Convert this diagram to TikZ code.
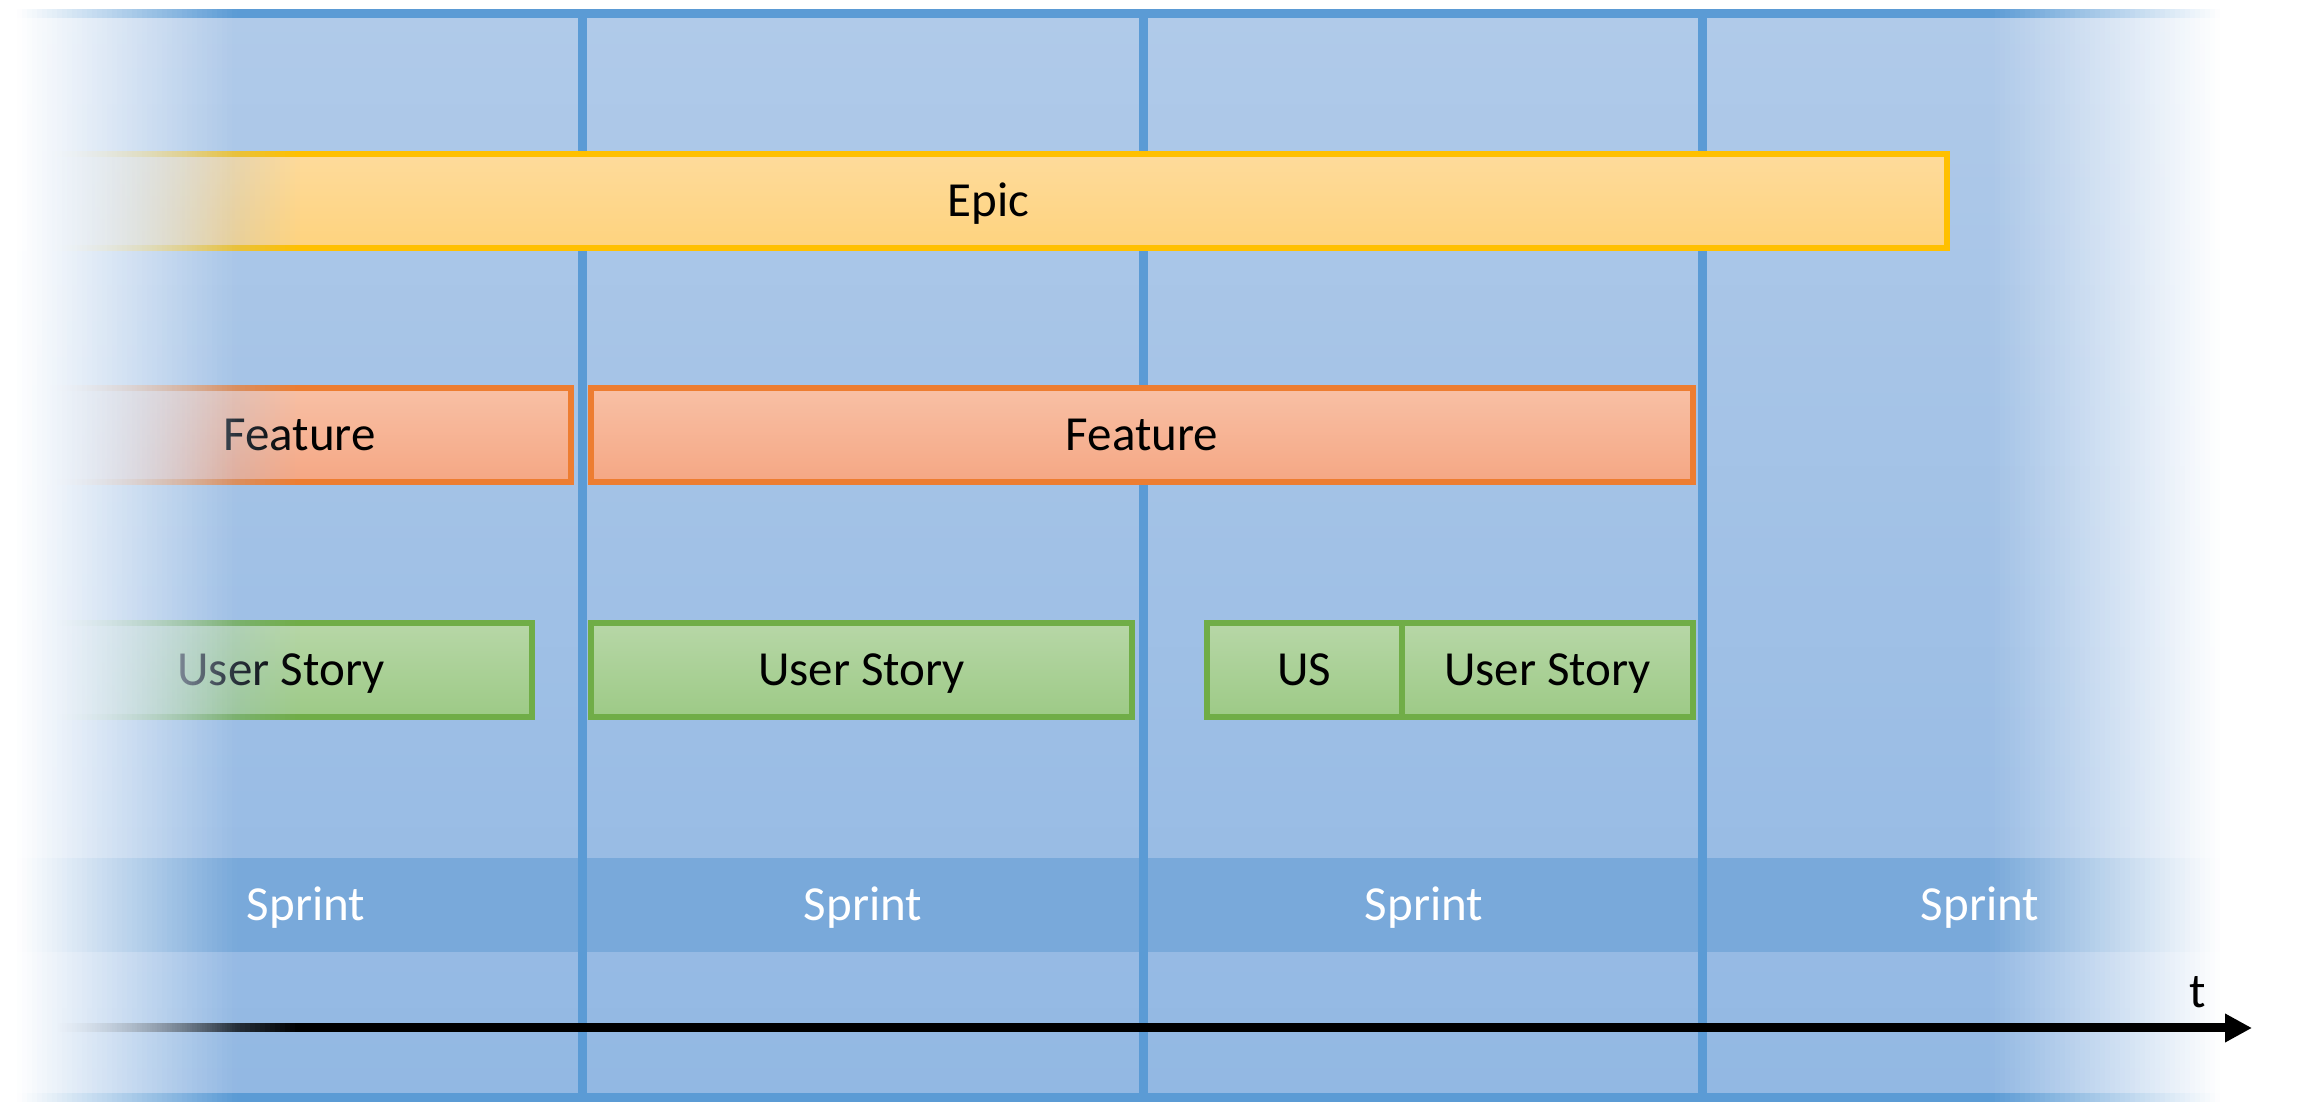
\documentclass[tikz,border=0pt]{standalone}
\usepackage{fontspec}
\setmainfont{Carlito}
\usetikzlibrary{arrows.meta}
\definecolor{bgtop}{RGB}{176,202,233}
\definecolor{bgbot}{RGB}{146,184,227}
\definecolor{framec}{RGB}{91,155,213}
\definecolor{sprintc}{RGB}{121,169,218}
\definecolor{epicline}{RGB}{255,192,0}
\definecolor{epictop}{RGB}{254,219,155}
\definecolor{epicbot}{RGB}{254,211,126}
\definecolor{featline}{RGB}{237,125,49}
\definecolor{feattop}{RGB}{248,192,165}
\definecolor{featbot}{RGB}{245,167,132}
\definecolor{usline}{RGB}{112,173,71}
\definecolor{ustop}{RGB}{183,215,167}
\definecolor{usbot}{RGB}{157,202,134}
% background colour at the height of each faded element
\definecolor{ceA}{RGB}{171,199,232}
\definecolor{ceB}{RGB}{164,195,231}
\definecolor{ceC}{RGB}{158,191,229}
\definecolor{ceD}{RGB}{148,185,227}
\begin{document}
\begin{tikzpicture}[x=1pt,y=1pt,
  txt/.style={font=\fontsize{49}{59}\selectfont, text height=31.5pt, text depth=0pt, inner sep=0pt},
  box/.style={txt, draw, line width=6pt, minimum height=94pt},
  epicbox/.style={box, draw=epicline, top color=epictop, bottom color=epicbot},
  featbox/.style={box, draw=featline, top color=feattop, bottom color=featbot},
  usbox/.style={box, draw=usline, top color=ustop, bottom color=usbot},
  vline/.style={draw=framec, line width=9pt},
  sprintlab/.style={txt, text=white}
]
\useasboundingbox (0,0) rectangle (2300,1108);

% ---- background layer
\draw[line width=9pt, draw=framec, top color=bgtop, bottom color=bgbot] (-20,10) rectangle (2320,1094.5);
\fill[sprintc] (-20,156) rectangle (2320,250);
\coordinate (l1t) at (582,1094.5); \coordinate (l1b) at (582,10);
\coordinate (l2t) at (1143,1094.5); \coordinate (l2b) at (1143,10);
\coordinate (l3t) at (1702,1094.5); \coordinate (l3b) at (1702,10);
\draw[vline] (l1t) -- (l1b);
\draw[vline] (l2t) -- (l2b);
\draw[vline] (l3t) -- (l3b);
\node[sprintlab] (s1) at (306,203) {Sprint};
\node[sprintlab] (s2) at (863,203) {Sprint};
\node[sprintlab] (s3) at (1424,203) {Sprint};
\node[sprintlab] (s4) at (1980,203) {Sprint};

% ---- right fade of the background
\foreach \i [evaluate=\i as \xa using 1990+5*\i, evaluate=\i as \op using (5*\i+2.5)/230] in {0,...,45}
  \fill[white, opacity=\op] (\xa,0) rectangle ++(5,1108);
\fill[white] (2220,0) rectangle (2300,1108);

% ---- elements
\node[epicbox, minimum width=1917pt] (epic) at (988.5,907) {Epic};
\node[featbox, minimum width=543pt] (f1) at (299.5,673) {Feature};
\node[featbox, minimum width=1102pt] (f2) at (1142,673) {Feature};
\node[usbox, minimum width=502pt] (us1) at (281,438) {User Story};
\node[usbox, minimum width=541pt] (us2) at (861.5,438) {User Story};
\node[usbox, minimum width=195pt] (us3) at (1304.5,438) {US};
\node[usbox, minimum width=291pt] (us4) at (1547.5,438) {User Story};
\coordinate (astart) at (58,80);
\coordinate (aend) at (2252,80);
\draw[line width=9pt, -{Triangle[length=27pt,width=27pt]}] (astart) -- (aend);

% ---- left fade of the elements (towards the background)
\foreach \i [evaluate=\i as \xa using 5*\i, evaluate=\i as \op using {min(1,max(0,1-(5*\i+2.5-50)/250))}] in {0,...,59}{
  \fill[ceA, opacity=\op] (\xa,857) rectangle ++(5,100);
  \fill[ceB, opacity=\op] (\xa,623) rectangle ++(5,100);
  \fill[ceC, opacity=\op] (\xa,388) rectangle ++(5,100);
  \fill[ceD, opacity=\op] (\xa,75) rectangle ++(5,10);
}

% ---- left fade of everything (towards white)
\fill[white] (0,0) rectangle (17,1108);
\foreach \i [evaluate=\i as \xa using 17+5*\i, evaluate=\i as \op using 1-(5*\i+2.5)/220] in {0,...,43}
  \fill[white, opacity=\op] (\xa,0) rectangle ++(5,1108);

\node[txt] (tlab) at (2198,116) {t};
\end{tikzpicture}
\end{document}
